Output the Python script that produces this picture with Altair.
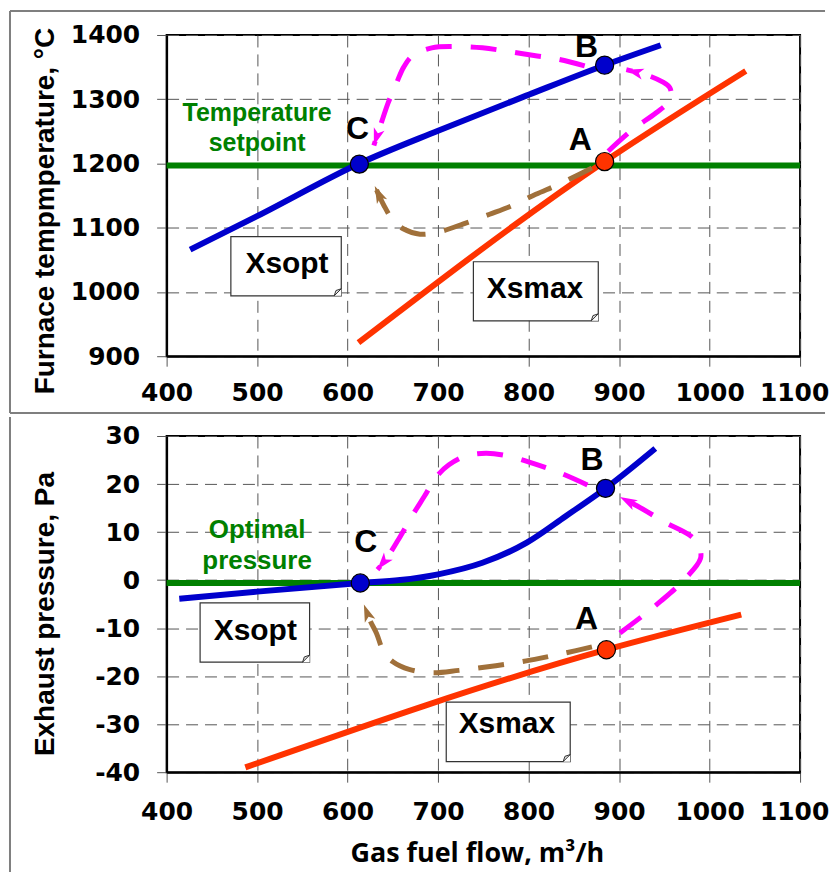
import altair as alt
import pandas as pd

# ---------------- data ----------------
X_TICKS = [400, 500, 600, 700, 800, 900, 1000, 1100]
T_TICKS = [900, 1000, 1100, 1200, 1300, 1400]
P_TICKS = [-40, -30, -20, -10, 0, 10, 20, 30]

# top panel: furnace temperature
t_blue_x = [426, 500, 613, 700, 800, 884, 946]
t_blue_y = [1066, 1118, 1200, 1251, 1307, 1353, 1384]
t_red_x = [612, 884, 1040]
t_red_y = [921, 1203, 1344]
t_setpoint = [1197]
t_mag1_x = [888, 915, 941, 957, 956, 948, 930, 908]
t_mag1_y = [1219, 1253, 1279, 1300, 1318, 1327, 1338, 1346]
t_mag2_x = [862, 834, 806, 775, 749, 718, 693, 672, 662, 654, 645, 637, 629]
t_mag2_y = [1352, 1362, 1368, 1375, 1380, 1382, 1380, 1368, 1350, 1325, 1295, 1262, 1228]
t_brown_x = [870, 834, 808, 781, 757, 728, 702, 680, 662, 650, 640, 630]
t_brown_y = [1193, 1168, 1152, 1134, 1121, 1106, 1094, 1090, 1098, 1112, 1135, 1165]
t_arrow_x = [908, 629, 630]
t_arrow_y = [1346, 1228, 1165]
t_arrow_a = [285, 198, 335]
t_arrow_c = ["m", "m", "b"]
t_pt_x = [884, 884, 613]
t_pt_y = [1203, 1353, 1199]
t_pt_c = ["r", "bl", "bl"]
t_let_x = [857, 864, 611]
t_let_y = [1237, 1382, 1253]
t_let_t = ["A", "B", "C"]
t_green_x = [500, 500]
t_green_y = [1279, 1232]
t_green_t = ["Temperature", "setpoint"]
t_box_x1 = [471, 739]
t_box_x2 = [593, 877]
t_box_y1 = [994, 955]
t_box_y2 = [1086, 1047]
t_box_tx = [533, 807]
t_box_ty = [1043, 1004]
t_box_t = ["Xsopt", "Xsmax"]

# bottom panel: exhaust pressure
b_blue_x = [414, 500, 614, 658, 700, 749, 798, 841, 885, 940]
b_blue_y = [-3.9, -2.4, -0.6, 0.0, 1.2, 3.6, 7.8, 13.3, 19.1, 27.4]
b_red_x = [487, 886, 1035]
b_red_y = [-39.0, -14.5, -7.2]
b_optimal = [-0.6]
b_mag1_x = [901, 927, 946, 970, 990, 988, 979, 951, 926, 901]
b_mag1_y = [-11.0, -7.3, -4.4, -0.3, 4.5, 7.1, 9.2, 12.0, 14.8, 17.3]
b_mag2_x = [865, 835, 805, 778, 753, 730, 712, 698, 685, 673, 656, 643, 633]
b_mag2_y = [19.8, 22.3, 24.3, 25.8, 26.4, 25.8, 24.0, 21.5, 17.5, 13.9, 8.4, 4.5, 2.2]
b_brown_x = [870, 840, 812, 783, 753, 723, 694, 668, 650, 640, 632, 625, 618]
b_brown_y = [-13.9, -15.2, -16.3, -17.3, -18.1, -18.8, -19.3, -18.6, -17.0, -15.0, -11.1, -8.5, -5.1]
b_arrow_x = [901, 633, 618]
b_arrow_y = [17.3, 2.2, -5.1]
b_arrow_a = [298, 219, 339]
b_arrow_c = ["m", "m", "b"]
b_pt_x = [886, 885, 614]
b_pt_y = [-14.5, 19.1, -0.6]
b_pt_c = ["r", "bl", "bl"]
b_let_x = [864, 870, 620]
b_let_y = [-8.2, 25.0, 8.0]
b_let_t = ["A", "B", "C"]
b_green_x = [500, 500]
b_green_y = [10.5, 3.9]
b_green_t = ["Optimal", "pressure"]
b_box_x1 = [437, 709]
b_box_x2 = [558, 846]
b_box_y1 = [-17.1, -37.8]
b_box_y2 = [-4.75, -25.4]
b_box_tx = [498, 776]
b_box_ty = [-10.6, -29.9]
b_box_t = ["Xsopt", "Xsmax"]

# ---------------- styling ----------------
BLUE = "#0000CC"
RED = "#FF3300"
GREEN = "#008000"
MAGENTA = "#FF00FF"
BROWN = "#A0703A"
CMAP = {"m": MAGENTA, "b": BROWN, "r": RED, "bl": BLUE}
ARROW = "M 0 0 L 0.65 2 L 0 1.5 L -0.65 2 Z"
CUT = "M -1 0 L 0 -1 L 0 0 Z"
FOLD = "M -1 0 L 0 -1 L -0.75 -0.75 Z"
W = 635


def panel(d, ydom, yticks, ytitle, title_y, H, xtitle, xlabpad, decor):
    xaxis_kw = dict(values=X_TICKS, labelPadding=xlabpad, format="d",
                    labelOverlap=False, labelFlush=False,
                    labelOffset={"condition": {"test": "datum.value == 1100", "value": -6},
                                 "value": 0})
    if xtitle:
        xaxis_kw.update(title=xtitle, titleFont="Open Sans", titleFontWeight="bold",
                        titleFontSize=27, titleY=82, titleX=311, titleBaseline="middle",
                        titleColor="black")
    else:
        xaxis_kw.update(title=None)
    xaxis = alt.Axis(**xaxis_kw)
    yaxis = alt.Axis(values=yticks, title=ytitle, titleFont="Liberation Sans",
                     titleFontWeight="bold", titleFontSize=28, titleColor="black",
                     titleAngle=270, titleX=-121, titleY=title_y, titleAlign="center",
                     titleBaseline="middle", labelPadding=17, labelOverlap=False,
                     labelFlush=False,
                     labelExpr="datum.value < 0 ? '-' + abs(datum.value) : '' + datum.value")
    xs = alt.Scale(domain=[400, 1100], nice=False, zero=False)
    ys = alt.Scale(domain=ydom, nice=False, zero=False)

    def X(f="x"):
        return alt.X(f"{f}:Q", scale=xs, axis=xaxis)

    def Y(f="y"):
        return alt.Y(f"{f}:Q", scale=ys, axis=yaxis)

    def df(**cols):
        return pd.DataFrame(cols)

    layers = []
    one = df(k=[0])
    for dec in decor:
        layers.append(alt.Chart(one).mark_rule(color="#7f7f7f", strokeWidth=2).encode(**dec))

    layers.append(alt.Chart(df(y=d["green"])).mark_rule(color=GREEN, strokeWidth=6).encode(y=Y()))
    layers.append(alt.Chart(df(x=d["blue_x"], y=d["blue_y"])).mark_line(
        color=BLUE, strokeWidth=6, interpolate="monotone").encode(x=X(), y=Y()))
    layers.append(alt.Chart(df(x=d["red_x"], y=d["red_y"])).mark_line(
        color=RED, strokeWidth=6, interpolate="monotone").encode(x=X(), y=Y()))
    for key, col in (("mag1", MAGENTA), ("mag2", MAGENTA), ("brown", BROWN)):
        xs_ = d[key + "_x"]
        layers.append(alt.Chart(df(x=xs_, y=d[key + "_y"], o=list(range(len(xs_))))).mark_line(
            color=col, strokeWidth=5, strokeDash=[26, 19], interpolate="catmull-rom",
            strokeCap="butt").encode(x=X(), y=Y(), order=alt.Order("o:Q")))
    layers.append(alt.Chart(df(x=d["arrow_x"], y=d["arrow_y"], a=d["arrow_a"],
                               c=[CMAP[c] for c in d["arrow_c"]])).mark_point(
        shape=ARROW, filled=True, size=300, opacity=1).encode(
        x=X(), y=Y(), angle=alt.Angle("a:Q", scale=None), color=alt.Color("c:N", scale=None)))
    layers.append(alt.Chart(df(x1=d["box_x1"], x2=d["box_x2"], y1=d["box_y1"], y2=d["box_y2"])).mark_rect(
        fill="white", stroke="#333333", strokeWidth=1.2).encode(
        x=X("x1"), x2=alt.X2("x2:Q"), y=Y("y1"), y2=alt.Y2("y2:Q")))
    corner = df(x=d["box_x2"], y=d["box_y1"])
    layers.append(alt.Chart(corner).mark_point(
        shape=CUT, filled=True, size=200, opacity=1, color="white", strokeWidth=0).encode(
        x=X(), y=Y()))
    layers.append(alt.Chart(corner).mark_point(
        shape=FOLD, filled=True, size=200, opacity=1, fill="#e0e0e0", stroke="#333333",
        strokeWidth=1).encode(x=X(), y=Y()))
    layers.append(alt.Chart(df(x=d["box_tx"], y=d["box_ty"], t=d["box_t"])).mark_text(
        font="Liberation Sans", fontWeight="bold", fontSize=30, color="black",
        align="center", baseline="middle").encode(x=X(), y=Y(), text="t:N"))
    layers.append(alt.Chart(df(x=d["green_tx"], y=d["green_ty"], t=d["green_t"])).mark_text(
        font="Liberation Sans", fontWeight="bold", fontSize=d["green_fs"], color=GREEN,
        align="center", baseline="middle").encode(x=X(), y=Y(), text="t:N"))
    layers.append(alt.Chart(df(x=d["pt_x"], y=d["pt_y"], c=[CMAP[c] for c in d["pt_c"]])).mark_circle(
        size=330, stroke="black", strokeWidth=1.2, opacity=1).encode(
        x=X(), y=Y(), fill=alt.Fill("c:N", scale=None)))
    layers.append(alt.Chart(df(x=d["let_x"], y=d["let_y"], t=d["let_t"])).mark_text(
        font="Liberation Sans", fontWeight="bold", fontSize=32, color="black",
        align="center", baseline="middle").encode(x=X(), y=Y(), text="t:N"))
    return alt.layer(*layers).properties(width=W, height=H)


top_d = dict(green=t_setpoint, blue_x=t_blue_x, blue_y=t_blue_y, red_x=t_red_x, red_y=t_red_y,
             mag1_x=t_mag1_x, mag1_y=t_mag1_y, mag2_x=t_mag2_x, mag2_y=t_mag2_y,
             brown_x=t_brown_x, brown_y=t_brown_y, arrow_x=t_arrow_x, arrow_y=t_arrow_y,
             arrow_a=t_arrow_a, arrow_c=t_arrow_c, pt_x=t_pt_x, pt_y=t_pt_y, pt_c=t_pt_c,
             let_x=t_let_x, let_y=t_let_y, let_t=t_let_t, green_tx=t_green_x, green_ty=t_green_y,
             green_t=t_green_t, green_fs=25, box_x1=t_box_x1, box_x2=t_box_x2, box_y1=t_box_y1,
             box_y2=t_box_y2, box_tx=t_box_tx, box_ty=t_box_ty, box_t=t_box_t)
bot_d = dict(green=b_optimal, blue_x=b_blue_x, blue_y=b_blue_y, red_x=b_red_x, red_y=b_red_y,
             mag1_x=b_mag1_x, mag1_y=b_mag1_y, mag2_x=b_mag2_x, mag2_y=b_mag2_y,
             brown_x=b_brown_x, brown_y=b_brown_y, arrow_x=b_arrow_x, arrow_y=b_arrow_y,
             arrow_a=b_arrow_a, arrow_c=b_arrow_c, pt_x=b_pt_x, pt_y=b_pt_y, pt_c=b_pt_c,
             let_x=b_let_x, let_y=b_let_y, let_t=b_let_t, green_tx=b_green_x, green_ty=b_green_y,
             green_t=b_green_t, green_fs=26, box_x1=b_box_x1, box_x2=b_box_x2, box_y1=b_box_y1,
             box_y2=b_box_y2, box_tx=b_box_tx, box_ty=b_box_ty, box_t=b_box_t)

TH = 322
BH = 337
top_decor = [
    dict(x=alt.value(-157), x2=alt.value(660), y=alt.value(-24)),
    dict(x=alt.value(-157), y=alt.value(-24), y2=alt.value(TH + 57)),
    dict(x=alt.value(-157), x2=alt.value(660), y=alt.value(TH + 57)),
]
bot_decor = [
    dict(x=alt.value(-157), y=alt.value(-19), y2=alt.value(BH + 100)),
]

top = panel(top_d, [900, 1400], T_TICKS, "Furnace tempmperature, °C", 176, TH, None, 14, top_decor)
bottom = panel(bot_d, [-40, 30], P_TICKS, "Exhaust pressure, Pa", 178, BH,
               "Gas fuel flow, m³/h", 17, bot_decor)

chart = alt.vconcat(top, bottom, spacing=0, padding=0).configure_view(
    stroke="black", strokeWidth=2
).configure_axis(
    grid=True, gridDash=[12, 7], gridColor="#555555", gridWidth=1,
    tickSize=10, tickColor="#555555", tickWidth=1,
    domainColor="black", domainWidth=2,
    labelFont="DejaVu Sans", labelFontWeight="bold", labelFontSize=25, labelColor="black",
)

chart.save("out.html", embed_options={"renderer": "svg", "actions": False})
